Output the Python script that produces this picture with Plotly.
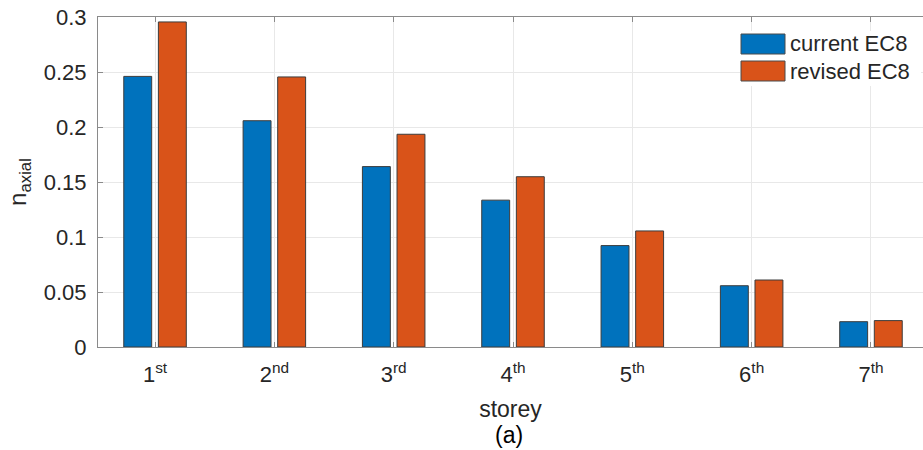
import plotly.graph_objects as go

# Axial load ratio per storey
storeys = ["1<sup>st</sup>", "2<sup>nd</sup>", "3<sup>rd</sup>", "4<sup>th</sup>",
           "5<sup>th</sup>", "6<sup>th</sup>", "7<sup>th</sup>"]
storey_pos = [1, 2, 3, 4, 5, 6, 7]
current_ec8 = [0.246, 0.2057, 0.1640, 0.1335, 0.0922, 0.0557, 0.0230]
revised_ec8 = [0.2955, 0.2455, 0.1934, 0.1548, 0.1055, 0.0609, 0.0240]
series_names = ["current EC8", "revised EC8"]
series_colors = ["#0072BD", "#D95319"]
y_ticks = [0, 0.05, 0.1, 0.15, 0.2, 0.25, 0.3]

W, H = 923, 450
M_L, M_R, M_T, M_B = 98, 0, 17, 103
FONT = "Liberation Sans, Arial, sans-serif"
AXIS_GRAY = "#8a8a8a"
TEXT = "#262626"

fig = go.Figure()
for name, vals, col in zip(series_names, [current_ec8, revised_ec8], series_colors):
    fig.add_trace(go.Bar(
        x=storey_pos, y=vals, name=name,
        marker=dict(color=col, line=dict(color="#3c3c3c", width=1)),
        showlegend=False,
    ))

fig.update_layout(
    width=W, height=H,
    margin=dict(l=M_L, r=M_R, t=M_T, b=M_B),
    paper_bgcolor="white", plot_bgcolor="white",
    barmode="group", bargap=0.42, bargroupgap=0.193,
    font=dict(family=FONT, color=TEXT, size=22),
)

fig.update_xaxes(
    range=[0.522, 7.436],
    tickvals=storey_pos, ticktext=storeys,
    tickfont=dict(size=22, color=TEXT),
    ticks="inside", ticklen=5, tickcolor=AXIS_GRAY, tickwidth=1,
    ticklabelstandoff=8,
    showline=True, linecolor=AXIS_GRAY, linewidth=1, mirror="ticks",
    showgrid=True, gridcolor="#e8e8e8", gridwidth=1,
    zeroline=False,
    title=dict(text="storey", font=dict(size=23, color=TEXT), standoff=14),
)
fig.update_yaxes(
    range=[0, 0.3],
    tickvals=y_ticks,
    tickfont=dict(size=22, color=TEXT),
    ticks="inside", ticklen=5, tickcolor=AXIS_GRAY, tickwidth=1,
    ticklabelstandoff=6,
    showline=True, linecolor=AXIS_GRAY, linewidth=1,
    showgrid=True, gridcolor="#e8e8e8", gridwidth=1,
    zeroline=False,
    title=dict(text="n<sub>axial</sub>", font=dict(size=24, color=TEXT), standoff=10),
)

plot_w = W - M_L - M_R
plot_h = H - M_T - M_B


def px_x(px):
    return (px - M_L) / plot_w


def px_y(py):
    return (H - M_B - py) / plot_h


# Legend box drawn as shapes + text
shapes = [dict(type="rect", xref="paper", yref="paper",
               x0=px_x(740), x1=px_x(921), y0=px_y(86), y1=px_y(31),
               fillcolor="white", line=dict(width=0), layer="above")]
annotations = []
for i, (name, col) in enumerate(zip(series_names, series_colors)):
    top = 34 + i * 27
    shapes.append(dict(type="rect", xref="paper", yref="paper",
                       x0=px_x(741), x1=px_x(785), y0=px_y(top + 20), y1=px_y(top),
                       fillcolor=col, line=dict(color="#4a4a4a", width=1),
                       layer="above"))
    annotations.append(dict(xref="paper", yref="paper", x=px_x(788), y=px_y(top + 10),
                            xanchor="left", yanchor="middle", showarrow=False,
                            text=name, font=dict(size=22, color=TEXT, family=FONT)))

annotations.append(dict(xref="paper", yref="paper", x=px_x(509), y=px_y(435),
                        xanchor="center", yanchor="middle", showarrow=False,
                        text="(a)", font=dict(size=23, color="#000000", family=FONT)))

fig.update_layout(shapes=shapes, annotations=annotations)

fig.write_html("out.html")
